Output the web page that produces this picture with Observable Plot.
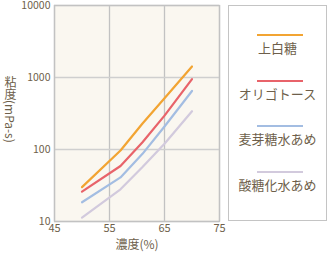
<!DOCTYPE html>
<html><head><meta charset="utf-8">
<script src="https://cdn.jsdelivr.net/npm/d3@7"></script>
<script src="https://cdn.jsdelivr.net/npm/@observablehq/plot@0.6"></script>
<style>
html,body{margin:0;padding:0;background:#fff;}
#wrap{position:relative;width:329px;height:258px;font-family:"Noto Sans CJK JP","Noto Sans",sans-serif;color:#6e5f4b;}
#legend{position:absolute;left:228px;top:5px;width:99px;height:216px;border:1px solid #c4c4c4;box-sizing:border-box;background:#fff;}
.li{position:absolute;left:0;width:100%;}
.li .sw{position:absolute;left:28px;width:46px;height:2px;}
.li .tx{position:absolute;left:0;width:100%;text-align:center;font-size:13px;line-height:13px;}
#ylab{position:absolute;left:3px;top:76px;writing-mode:vertical-rl;font-size:12px;line-height:14px;}
</style></head>
<body><div id="wrap"></div>
<script>
const concentration = [50, 57, 61, 65, 70];
const seriesNames = ["上白糖", "オリゴトース", "麦芽糖水あめ", "酸糖化水あめ"];
const seriesColors = ["#f2a432", "#e8636a", "#a3bde2", "#d2cadd"];
const joohakuto = [30, 97, 230, 515, 1420];
const oligotose = [26, 59, 126, 295, 950];
const bakugato = [18.5, 41, 87, 209, 650];
const sanToka = [11.3, 28, 57, 120, 340];
const yTicks = [10, 100, 1000, 10000];
const xTicks = [45, 55, 65, 75];

const seriesValues = [joohakuto, oligotose, bakugato, sanToka];
const data = [];
seriesNames.forEach((s, i) => concentration.forEach((c, j) => data.push({series: s, x: c, y: seriesValues[i][j]})));

const txt = "#6e5f4b";
const plot = Plot.plot({
  width: 329, height: 258,
  marginLeft: 54, marginRight: 110, marginTop: 5, marginBottom: 37,
  style: {fontFamily: '"Noto Sans CJK JP","Noto Sans",sans-serif', fontSize: "10.5px", color: txt, background: "transparent"},
  x: {domain: [45, 75], ticks: xTicks},
  y: {type: "log", domain: [10, 10000], ticks: yTicks},
  color: {domain: seriesNames, range: seriesColors},
  marks: [
    Plot.frame({fill: "#faf7f0", stroke: null}),
    Plot.gridX(xTicks, {stroke: "#c2c2c2", strokeOpacity: 1, strokeWidth: 1.3}),
    Plot.gridY(yTicks, {stroke: "#cfcfcf", strokeOpacity: 1, strokeWidth: 1.3}),
    Plot.frame({stroke: "#c2c2c2", strokeWidth: 1.3}),
    Plot.axisX(xTicks, {tickSize: 0, tickPadding: 3, fontSize: 11, label: "濃度(%)", labelAnchor: "center", labelArrow: "none", labelOffset: 27}),
    Plot.axisY(yTicks, {tickSize: 0, tickPadding: 4, fontSize: 10.5, tickFormat: d => String(d), label: null}),
    Plot.line(data, {x: "x", y: "y", z: "series", stroke: "series", strokeWidth: 2.2})
  ]
});
const wrap = document.getElementById("wrap");
wrap.appendChild(plot);
plot.style.position = "absolute"; plot.style.left = "0"; plot.style.top = "0";
plot.querySelectorAll('g[aria-label="x-axis label"] text').forEach(t => t.setAttribute("font-size", "12"));

const yl = document.createElement("div");
yl.id = "ylab"; yl.textContent = "粘度(mPa-s)";
wrap.appendChild(yl);

const lg = document.createElement("div");
lg.id = "legend";
const tops = [28, 74, 119, 165];
seriesNames.forEach((s, i) => {
  const d = document.createElement("div");
  d.className = "li"; d.style.top = tops[i] + "px";
  d.innerHTML = `<div class="sw" style="background:${seriesColors[i]}"></div><div class="tx" style="top:7px">${s}</div>`;
  lg.appendChild(d);
});
wrap.appendChild(lg);
</script></body></html>
